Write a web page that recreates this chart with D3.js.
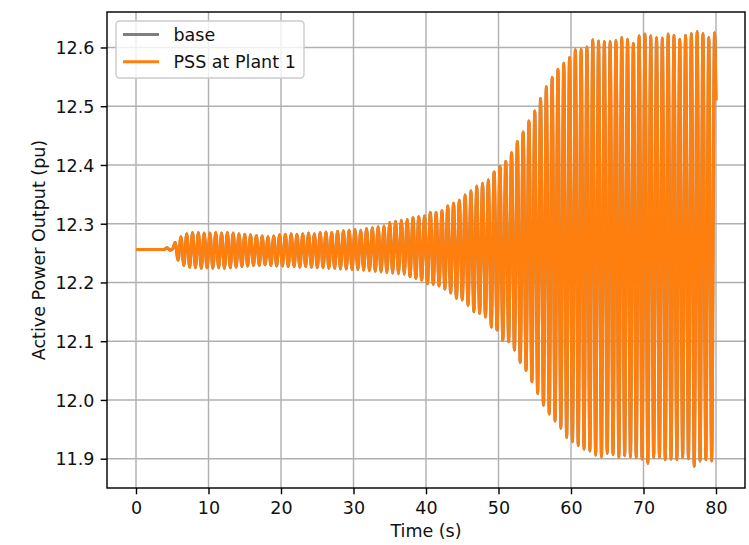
<!DOCTYPE html>
<html>
<head>
<meta charset="utf-8">
<script src="https://cdn.jsdelivr.net/npm/d3@7"></script>
<style>
  html, body { margin: 0; padding: 0; background: #fff; }
  svg { display: block; }
  text { font-family: "DejaVu Sans", sans-serif; }
</style>
</head>
<body>
<svg id="chart" width="749" height="545"></svg>
<script>
// ---------------- data ----------------
const xTicks = [0, 10, 20, 30, 40, 50, 60, 70, 80];
const yTicks = [11.9, 12.0, 12.1, 12.2, 12.3, 12.4, 12.5, 12.6];
const seriesNames = ["base", "PSS at Plant 1"];

// flat pre-disturbance part (time, value)
const leadTimes  = [0, 3.8, 4.3, 4.7, 5.05];
const leadValues = [12.256, 12.256, 12.259, 12.255, 12.257];

// oscillation: one maximum and one minimum per cycle (period ~0.8 s)
const cyclePeriod = 0.8;
const firstMaxTime = 5.4;
const firstMinTime = 5.8;
const maxValues = [
  12.268, 12.278, 12.283, 12.285, 12.285, 12.284, 12.284, 12.285, 12.284, 12.285,
  12.284, 12.283, 12.282, 12.281, 12.280, 12.279, 12.278, 12.279, 12.281, 12.282,
  12.283, 12.282, 12.283, 12.284, 12.283, 12.285, 12.286, 12.285, 12.287, 12.288,
  12.289, 12.290, 12.289, 12.292, 12.293, 12.295, 12.296, 12.302, 12.304, 12.306,
  12.307, 12.310, 12.312, 12.313, 12.319, 12.319, 12.322, 12.330, 12.335, 12.340,
  12.349, 12.356, 12.364, 12.369, 12.375, 12.388, 12.397, 12.406, 12.421, 12.440,
  12.456, 12.475, 12.492, 12.513, 12.533, 12.549, 12.563, 12.573, 12.583, 12.596,
  12.597, 12.601, 12.613, 12.611, 12.610, 12.610, 12.612, 12.617, 12.614, 12.607,
  12.620, 12.623, 12.620, 12.617, 12.616, 12.623, 12.621, 12.614, 12.621, 12.624,
  12.627, 12.624, 12.617, 12.625
];
const minValues = [
  12.238, 12.229, 12.226, 12.225, 12.224, 12.225, 12.224, 12.225, 12.224, 12.225,
  12.226, 12.227, 12.228, 12.229, 12.229, 12.230, 12.229, 12.228, 12.228, 12.227,
  12.227, 12.226, 12.227, 12.226, 12.225, 12.225, 12.224, 12.224, 12.223, 12.223,
  12.222, 12.222, 12.221, 12.220, 12.219, 12.218, 12.217, 12.216, 12.215, 12.214,
  12.210, 12.207, 12.204, 12.198, 12.197, 12.194, 12.189, 12.182, 12.173, 12.170,
  12.161, 12.150, 12.147, 12.141, 12.124, 12.119, 12.102, 12.099, 12.085, 12.064,
  12.050, 12.031, 12.011, 11.991, 11.976, 11.964, 11.952, 11.936, 11.929, 11.922,
  11.916, 11.913, 11.906, 11.903, 11.909, 11.907, 11.902, 11.905, 11.903, 11.902,
  11.899, 11.892, 11.902, 11.902, 11.898, 11.899, 11.898, 11.902, 11.900, 11.887,
  11.896, 11.898, 11.896
];
const endTime = 80.0;
const endValue = 12.51;

// ---------------- build the series table ----------------
function buildSeries() {
  const pts = [];
  leadTimes.forEach((t, i) => pts.push({ t, v: leadValues[i] }));
  maxValues.forEach((v, k) => pts.push({ t: firstMaxTime + cyclePeriod * k, v }));
  minValues.forEach((v, k) => pts.push({ t: firstMinTime + cyclePeriod * k, v }));
  pts.push({ t: endTime, v: endValue });
  pts.sort((a, b) => a.t - b.t);
  return pts;
}
const pssData = buildSeries();
const baseData = pssData;

// ---------------- layout ----------------
const svg = d3.select("#chart");
const W = 749, H = 545;
const mLeft = 107, mRight = 745, mTop = 12, mBottom = 488;
const fs = 17.5;
const lw = 1.43;
const seriesWidth = 3.0;

const x = d3.scaleLinear().domain([-4, 84]).range([mLeft, mRight]);
const y = d3.scaleLinear().domain([11.8501, 12.6604]).range([mBottom, mTop]);

svg.append("rect").attr("width", W).attr("height", H).attr("fill", "#fff");

// grid
const grid = svg.append("g");
grid.selectAll(".gx").data(xTicks).join("line")
  .attr("x1", d => x(d)).attr("x2", d => x(d))
  .attr("y1", mTop).attr("y2", mBottom)
  .attr("stroke", "#b0b0b0").attr("stroke-width", lw);
grid.selectAll(".gy").data(yTicks).join("line")
  .attr("x1", mLeft).attr("x2", mRight)
  .attr("y1", d => y(d)).attr("y2", d => y(d))
  .attr("stroke", "#b0b0b0").attr("stroke-width", lw);

// lines
svg.append("defs").append("clipPath").attr("id", "clip")
  .append("rect").attr("x", mLeft).attr("y", mTop)
  .attr("width", mRight - mLeft).attr("height", mBottom - mTop);

const line = d3.line().x(d => x(d.t)).y(d => y(d.v)).curve(d3.curveMonotoneX);
const plot = svg.append("g").attr("clip-path", "url(#clip)");
plot.append("path").datum(baseData).attr("d", line)
  .attr("fill", "none").attr("stroke", "#7f7f7f").attr("stroke-width", seriesWidth)
  .attr("stroke-linejoin", "round").attr("stroke-linecap", "butt");
plot.append("path").datum(pssData).attr("d", line)
  .attr("fill", "none").attr("stroke", "#ff7f0e").attr("stroke-width", seriesWidth)
  .attr("stroke-linejoin", "round").attr("stroke-linecap", "butt");

// axes
const xAxis = d3.axisBottom(x).tickValues(xTicks).tickFormat(d3.format("d"))
  .tickSizeInner(6.3).tickSizeOuter(0).tickPadding(6.3);
const yAxis = d3.axisLeft(y).tickValues(yTicks).tickFormat(d3.format(".1f"))
  .tickSizeInner(6.3).tickSizeOuter(0).tickPadding(6.3);

const gx = svg.append("g").attr("transform", `translate(0,${mBottom})`).call(xAxis);
const gy = svg.append("g").attr("transform", `translate(${mLeft},0)`).call(yAxis);
[gx, gy].forEach(g => {
  g.select(".domain").remove();
  g.selectAll(".tick line").attr("stroke", "#000").attr("stroke-width", lw);
  g.selectAll(".tick text").attr("fill", "#111").attr("font-size", fs)
    .attr("font-family", "DejaVu Sans, sans-serif");
});
gx.selectAll(".tick text").attr("dy", "0.76em");
gy.selectAll(".tick text").attr("dy", "0.36em");

// spines
svg.append("rect").attr("x", mLeft).attr("y", mTop)
  .attr("width", mRight - mLeft).attr("height", mBottom - mTop)
  .attr("fill", "none").attr("stroke", "#000").attr("stroke-width", lw);

// axis labels
svg.append("text").attr("x", (mLeft + mRight) / 2).attr("y", 537)
  .attr("text-anchor", "middle").attr("font-size", fs).attr("fill", "#111").text("Time (s)");
svg.append("text")
  .attr("transform", `translate(45,${(mTop + mBottom) / 2}) rotate(-90)`)
  .attr("text-anchor", "middle").attr("font-size", fs).attr("fill", "#111")
  .text("Active Power Output (pu)");

// legend
const colors = ["#7f7f7f", "#ff7f0e"];
const lg = svg.append("g");
lg.append("rect").attr("x", 116).attr("y", 21).attr("width", 188).attr("height", 57)
  .attr("rx", 3.5).attr("ry", 3.5)
  .attr("fill", "#fff").attr("fill-opacity", 0.8)
  .attr("stroke", "#cccccc").attr("stroke-width", lw);
seriesNames.forEach((name, i) => {
  const ly = 34.5 + i * 27.3;
  lg.append("line").attr("x1", 123).attr("x2", 159).attr("y1", ly).attr("y2", ly)
    .attr("stroke", colors[i]).attr("stroke-width", seriesWidth);
  lg.append("text").attr("x", 173.5).attr("y", ly + 6.3)
    .attr("font-size", fs).attr("fill", "#111").text(name);
});
</script>
</body>
</html>
